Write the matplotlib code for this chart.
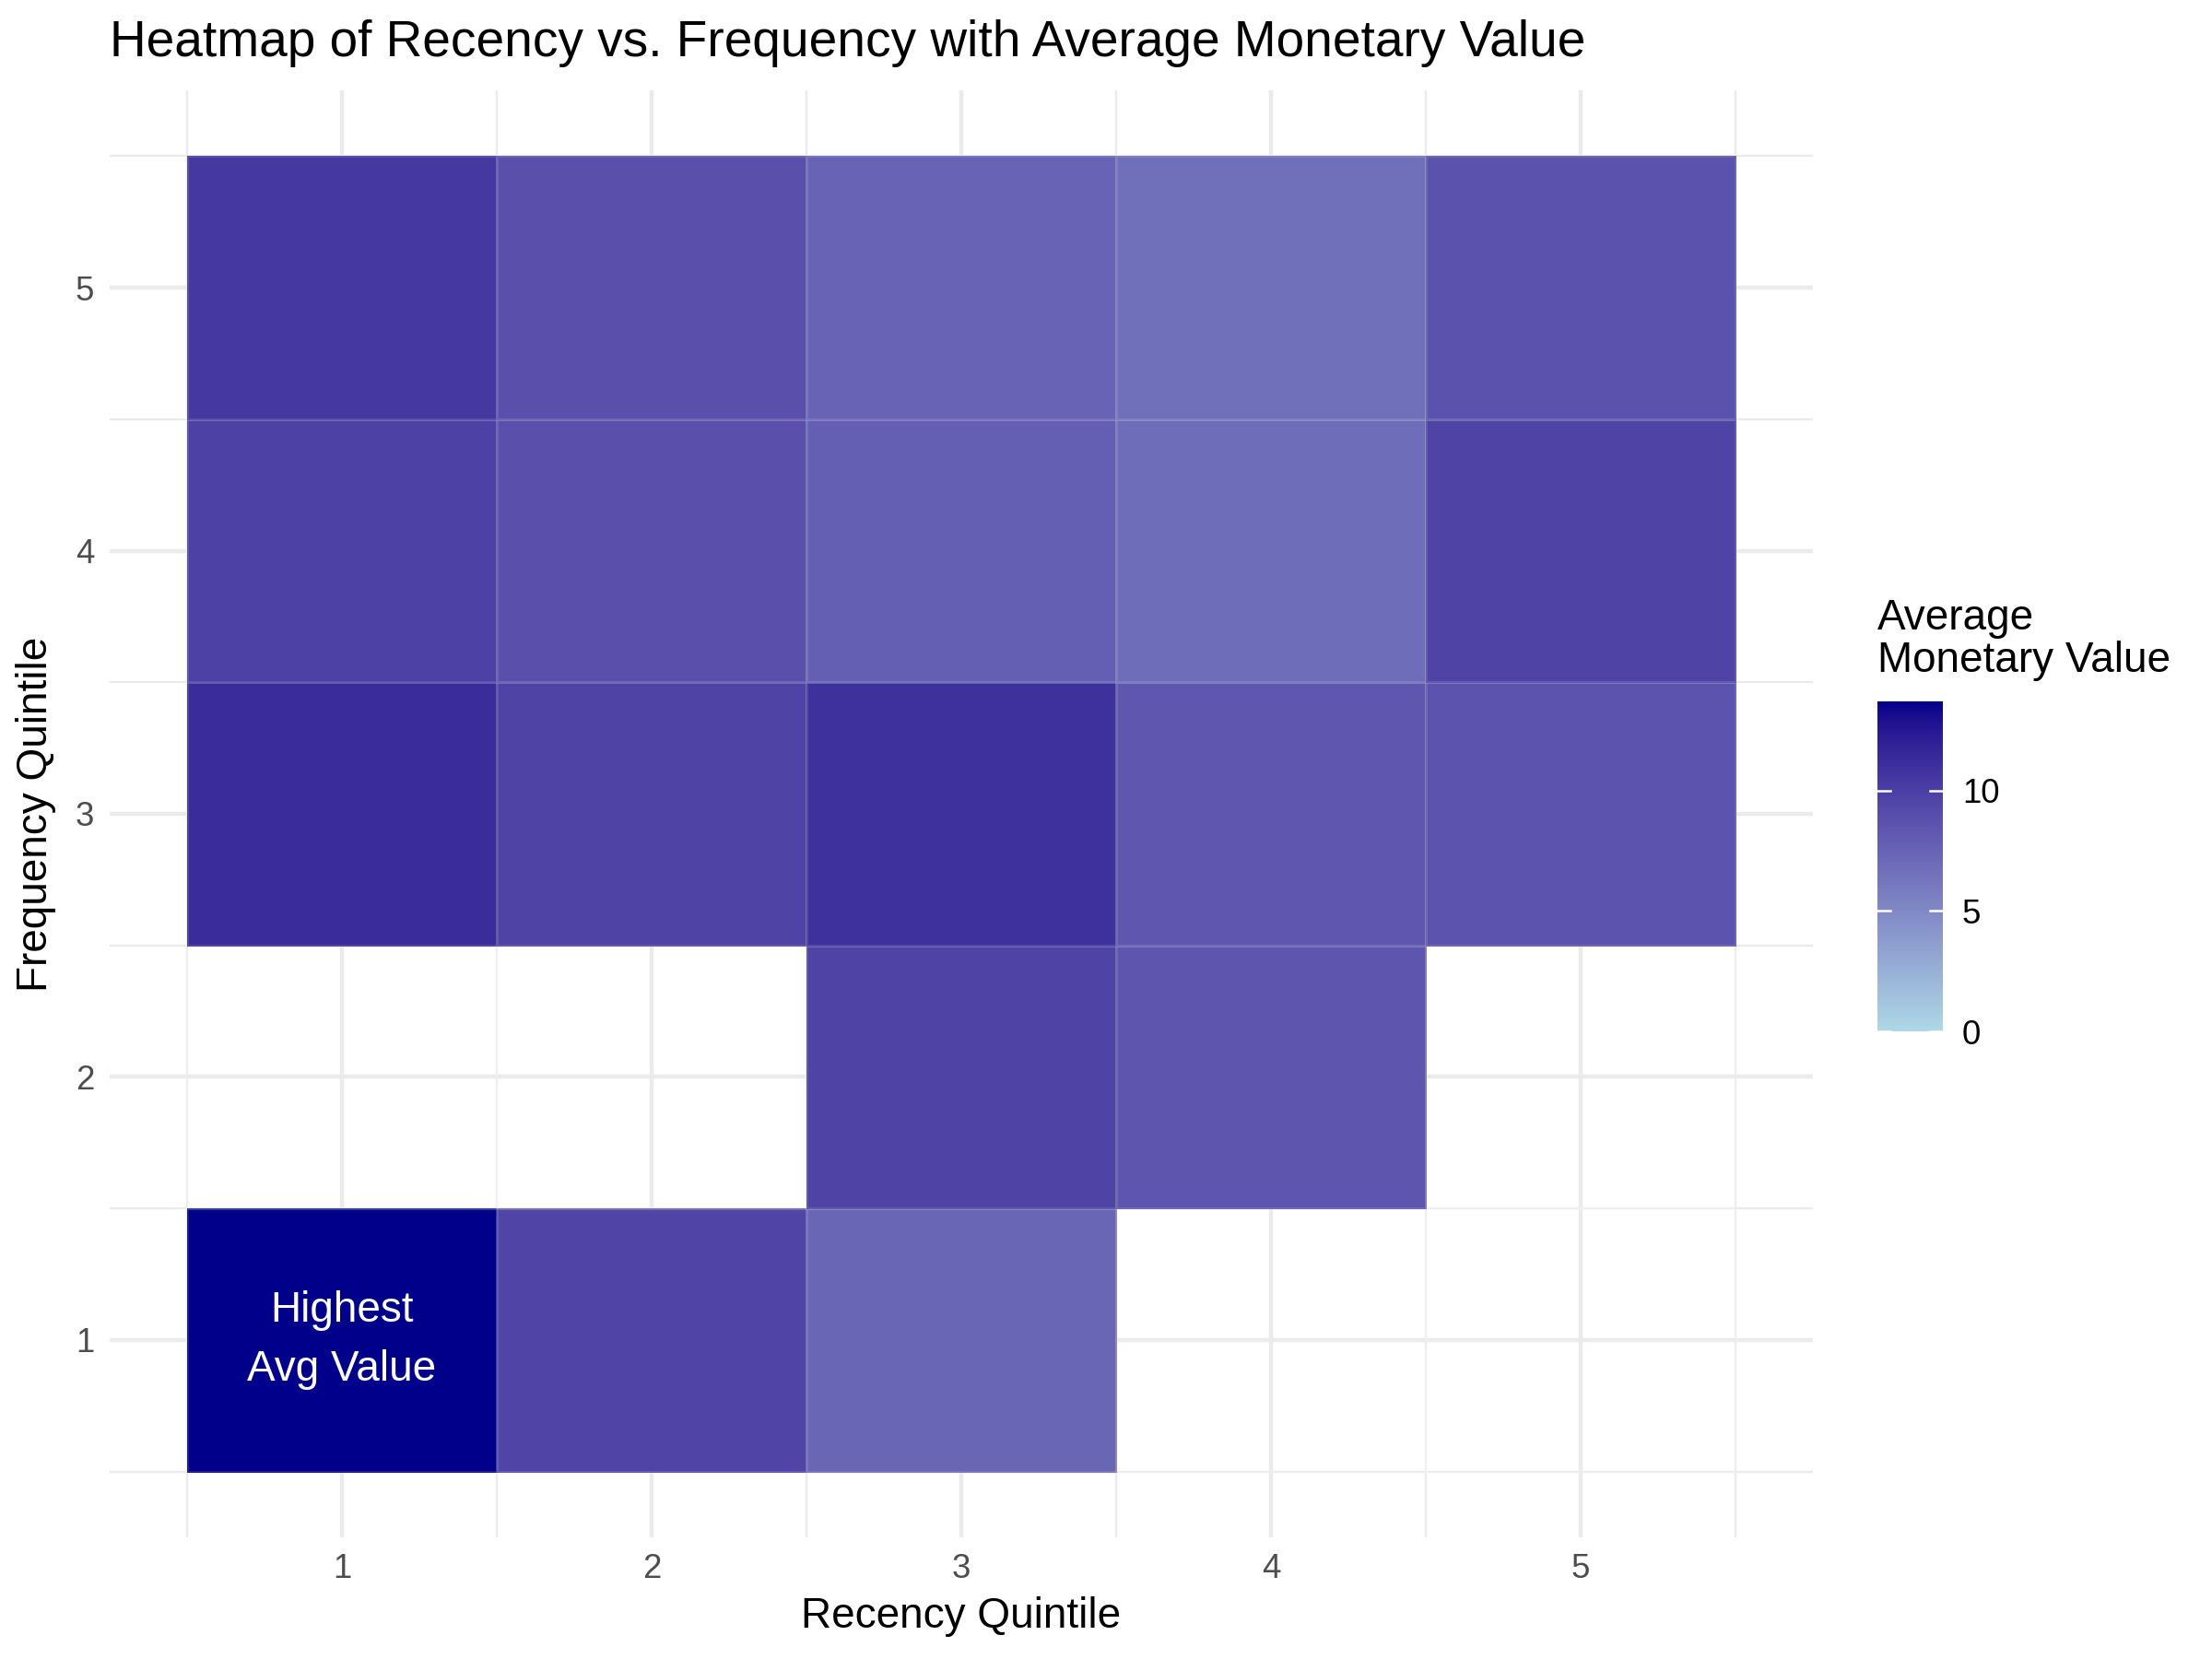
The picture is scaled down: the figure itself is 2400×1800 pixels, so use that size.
import numpy as np
import matplotlib
matplotlib.use('Agg')
import matplotlib.pyplot as plt
from matplotlib.colors import ListedColormap, to_rgb

plt.rcParams['font.family'] = ['Liberation Sans', 'DejaVu Sans']

# cell data: recency quintile, frequency quintile, average monetary value
recency = [1, 2, 3, 1, 3, 4, 1, 2, 3, 4, 5, 1, 2, 3, 4, 5, 1, 2, 3, 4, 5]
frequency = [1, 1, 1, 2, 2, 2, 3, 3, 3, 3, 3, 4, 4, 4, 4, 4, 5, 5, 5, 5, 5]
avg_value = [13.7, 9.6, 7.3, None, 9.7, 8.5,
             11.2, 9.7, 11.0, 8.3, 8.6,
             9.8, 8.8, 7.8, 6.9, 9.7,
             10.4, 8.8, 7.5, 6.7, 8.7]
quintiles = [1, 2, 3, 4, 5]
low_col = 'lightblue'
high_col = 'darkblue'


# ggplot style gradient: interpolate in CIE Lab
def to_lab(rgb):
    rgb = np.asarray(rgb, float)
    lin = np.where(rgb <= 0.04045, rgb / 12.92, ((rgb + 0.055) / 1.055) ** 2.4)
    m = np.array([[0.4124, 0.3576, 0.1805],
                  [0.2126, 0.7152, 0.0722],
                  [0.0193, 0.1192, 0.9505]])
    xyz = m @ lin / np.array([0.95047, 1.0, 1.08883])
    f = np.where(xyz > 0.008856, np.cbrt(xyz), 7.787 * xyz + 16 / 116)
    return np.array([116 * f[1] - 16, 500 * (f[0] - f[1]), 200 * (f[1] - f[2])])


def from_lab(lab):
    L, a, b = lab
    fy = (L + 16) / 116
    fx = fy + a / 500
    fz = fy - b / 200
    f = np.array([fx, fy, fz])
    xyz = np.where(f ** 3 > 0.008856, f ** 3, (f - 16 / 116) / 7.787)
    xyz = xyz * np.array([0.95047, 1.0, 1.08883])
    m = np.array([[3.2406, -1.5372, -0.4986],
                  [-0.9689, 1.8758, 0.0415],
                  [0.0557, -0.2040, 1.0570]])
    lin = m @ xyz
    rgb = np.where(lin <= 0.0031308, 12.92 * lin, 1.055 * np.clip(lin, 0, None) ** (1 / 2.4) - 0.055)
    return np.clip(rgb, 0, 1)


lab_lo = to_lab(to_rgb(low_col))
lab_hi = to_lab(to_rgb(high_col))
cmap = ListedColormap([from_lab(lab_lo + t * (lab_hi - lab_lo)) for t in np.linspace(0, 1, 256)])

grid = np.full((5, 5), np.nan)
for r, f, v in zip(recency, frequency, avg_value):
    if v is not None:
        grid[f - 1, r - 1] = v
vmax = np.nanmax(grid)

fig = plt.figure(figsize=(8, 6), dpi=300)
ax = fig.add_axes([0.0496, 0.0733, 0.77, 0.8723])

edges = np.arange(0.5, 6.0, 1.0)
mesh = ax.pcolormesh(edges, edges, np.ma.masked_invalid(grid), cmap=cmap,
                     vmin=0, vmax=vmax, edgecolor=(1, 1, 1, 0.12), linewidth=0.3, zorder=2)

ax.text(1, 1, 'Highest\nAvg Value', color='white', ha='center', va='center',
        fontsize=11, linespacing=1.6, zorder=3)

ax.set_xlim(0.25, 5.75)
ax.set_ylim(0.25, 5.75)
ax.set_xticks(quintiles)
ax.set_yticks(quintiles)
ax.set_xticks(edges, minor=True)
ax.set_yticks(edges, minor=True)
ax.grid(which='major', color='#EBEBEB', linewidth=1.07, zorder=0)
ax.grid(which='minor', color='#EBEBEB', linewidth=0.53, zorder=0)
ax.set_axisbelow(True)
for s in ax.spines.values():
    s.set_visible(False)
ax.tick_params(which='both', length=0, labelsize=8.8, labelcolor='#4D4D4D', pad=4)
ax.set_xlabel('Recency Quintile', fontsize=11, labelpad=3)
ax.set_ylabel('Frequency Quintile', fontsize=11, labelpad=5)

fig.text(0.0496, 0.974, 'Heatmap of Recency vs. Frequency with Average Monetary Value',
         fontsize=13.2, ha='left', va='center')

cax = fig.add_axes([0.8488, 0.3783, 0.0296, 0.199])
cb = fig.colorbar(mesh, cax=cax)
cb.outline.set_visible(False)
cb.set_ticks([0, 5, 10])
cax.tick_params(length=0, labelsize=8.8, pad=5)
for t in [0, 5, 10]:
    cax.axhline(t, xmin=0, xmax=0.2, color='white', linewidth=0.6)
    cax.axhline(t, xmin=0.8, xmax=1, color='white', linewidth=0.6)
fig.text(0.8488, 0.5895, 'Average\nMonetary Value', fontsize=11, ha='left', va='bottom',
         linespacing=1.05)

fig.savefig('out.png', dpi=300)
